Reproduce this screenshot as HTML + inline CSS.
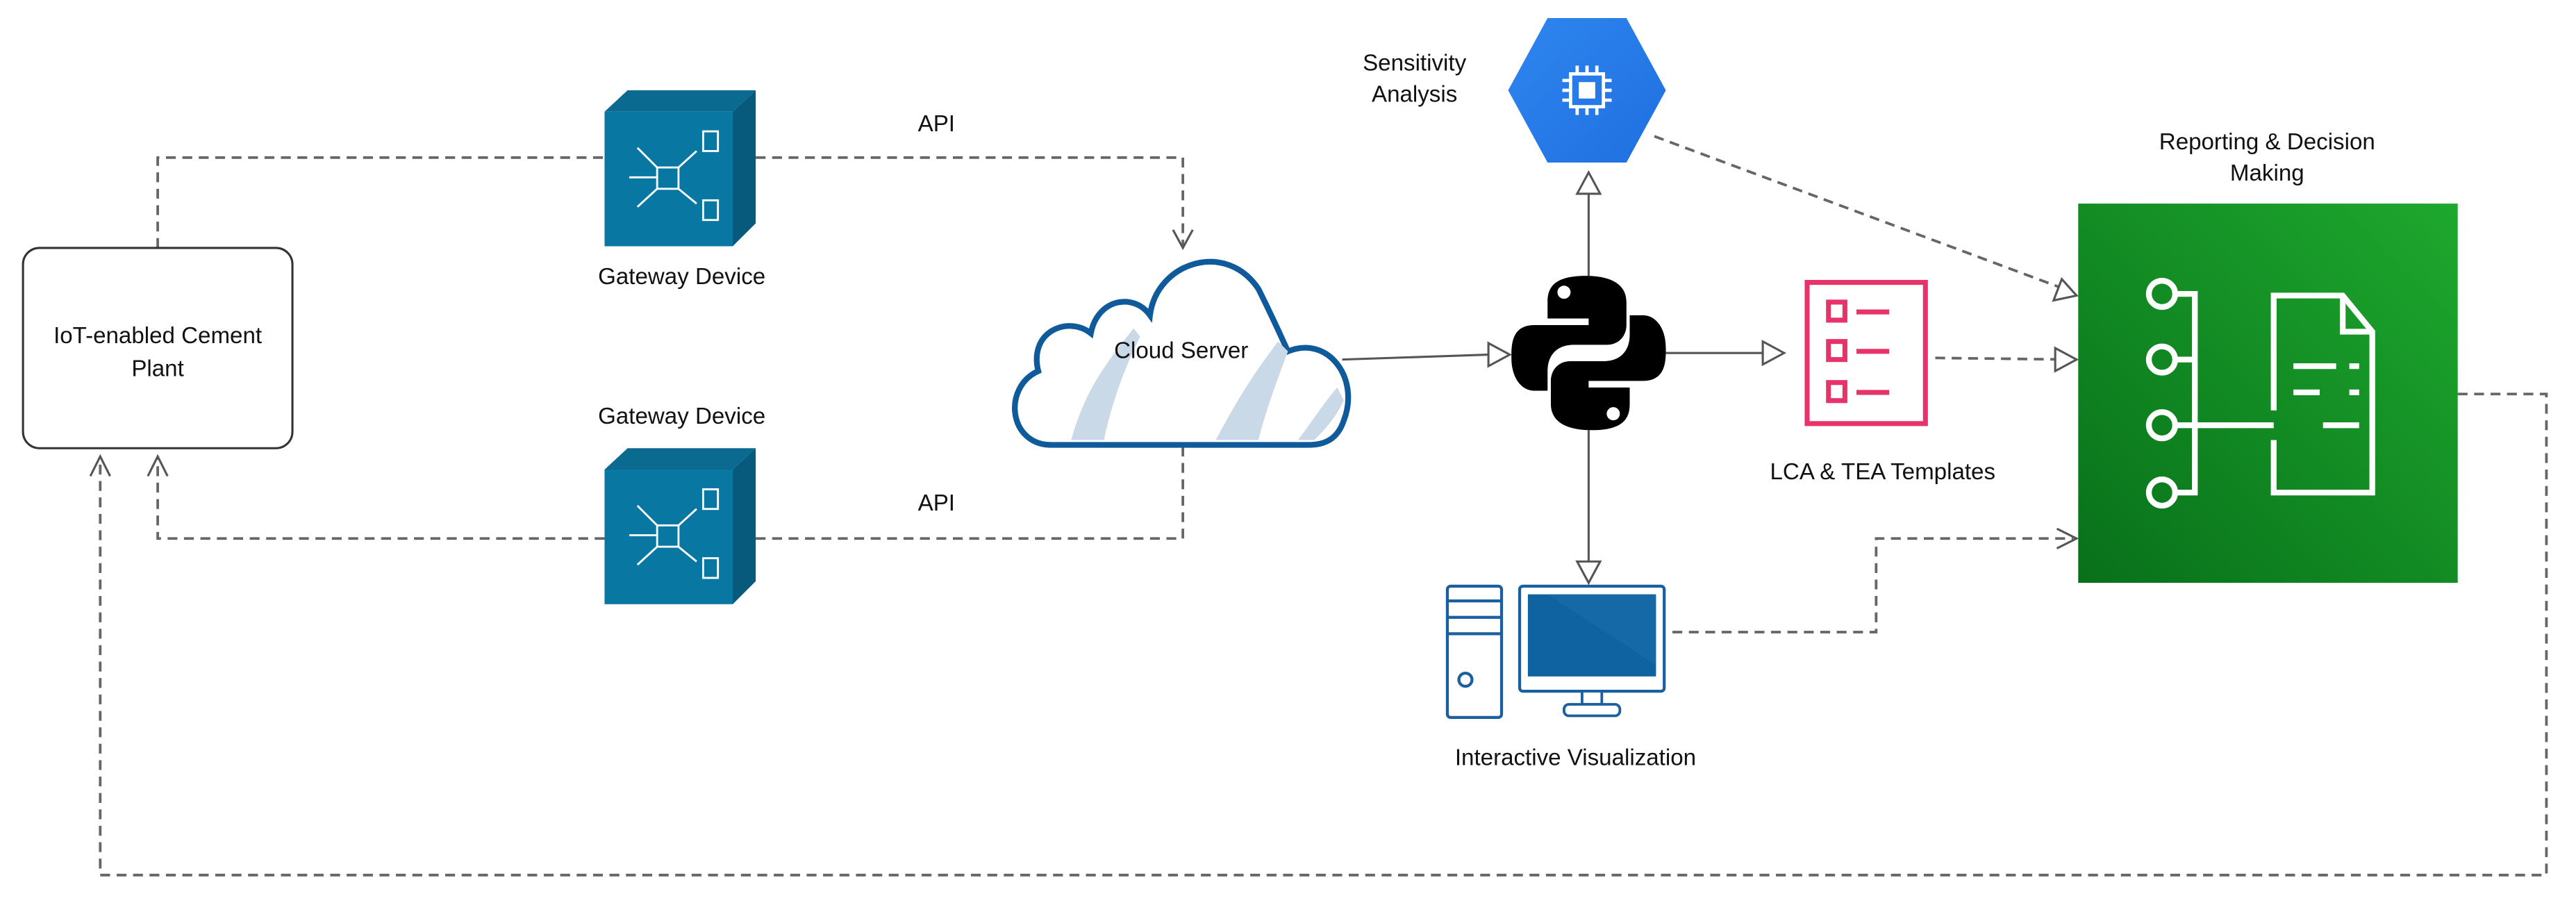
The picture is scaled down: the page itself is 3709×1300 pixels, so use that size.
<!DOCTYPE html>
<html><head><meta charset="utf-8"><style>
html,body{margin:0;padding:0;background:#fff;}
svg{display:block;}
text{font-family:"Liberation Sans",sans-serif;fill:#111;}
</style></head><body>
<svg width="3709" height="1300" viewBox="0 0 1568 550" preserveAspectRatio="none" xmlns="http://www.w3.org/2000/svg">
<defs>
<linearGradient id="g" x1="0" y1="1" x2="1" y2="0"><stop offset="0" stop-color="#08701a"/><stop offset="1" stop-color="#1ea82e"/></linearGradient>
<linearGradient id="hx" x1="0" y1="0" x2="1" y2="1"><stop offset="0" stop-color="#2f86f0"/><stop offset="1" stop-color="#1f6fe0"/></linearGradient>
</defs>
<g fill="none" stroke="#666" stroke-width="1.6" stroke-dasharray="6,4">
<polyline points="96,151 96,96 368,96"/>
<polyline points="460,96 720,96 720,150"/>
<polyline points="720,272 720,328 460,328"/>
<polyline points="368,328 96,328 96,279"/>
<polyline points="1007,83 1262,178"/>
<polyline points="1178,218 1262,219"/>
<polyline points="1018,385 1142,385 1142,328 1262,328"/>
<polyline points="1496,240 1550,240 1550,533 61,533 61,279"/>
</g>
<g fill="none" stroke="#555" stroke-width="1.3">
<polyline points="714,140 720,151 726,140"/>
<polyline points="90,290 96,278 102,290"/>
<polyline points="55,290 61,278 67,290"/>
<polyline points="1252,322 1264,328 1252,334"/>
</g>
<g fill="#fff" stroke="#555" stroke-width="1.3">
<polygon points="1264,180 1250,183 1255,170"/>
<polygon points="1264,219 1251,212 1251,226"/>
</g>
<g stroke="#555" stroke-width="1.3" fill="none">
<line x1="817" y1="219" x2="906" y2="216"/>
<line x1="1014" y1="215" x2="1073" y2="215"/>
<line x1="967" y1="168" x2="967" y2="117"/>
<line x1="967" y1="262" x2="967" y2="342"/>
</g>
<g fill="#fff" stroke="#555" stroke-width="1.3">
<polygon points="919,216 906,209 906,223"/>
<polygon points="1086,215 1073,208 1073,222"/>
<polygon points="967,105 960,118 974,118"/>
<polygon points="967,355 960,342 974,342"/>
</g>
<rect x="14" y="151" width="164" height="122" rx="10" fill="#fff" stroke="#333" stroke-width="1.3"/>
<text x="96" y="209" font-size="14" text-anchor="middle">IoT-enabled Cement</text>
<text x="96" y="229" font-size="14" text-anchor="middle">Plant</text>
<g id="gw">
<polygon points="368,68 382,55 460,55 446,68" fill="#0a6a90"/>
<polygon points="446,68 460,55 460,136 446,150" fill="#075a7c"/>
<rect x="368" y="68" width="78" height="82" fill="#0878a3"/>
<g stroke="#fff" stroke-width="1.2" fill="none">
<rect x="400" y="102" width="13" height="13"/>
<rect x="428" y="80" width="9" height="12"/>
<rect x="428" y="122" width="9" height="12"/>
<line x1="400" y1="102" x2="388" y2="90"/><line x1="400" y1="108" x2="383" y2="108"/><line x1="400" y1="115" x2="388" y2="126"/>
<line x1="413" y1="102" x2="424" y2="92"/><line x1="413" y1="115" x2="424" y2="124"/>
</g>
</g>
<use href="#gw" transform="translate(0,218)"/>
<text x="415" y="173" font-size="14" text-anchor="middle">Gateway Device</text>
<text x="415" y="258" font-size="14" text-anchor="middle">Gateway Device</text>
<text x="570" y="80" font-size="14" text-anchor="middle">API</text>
<text x="570" y="311" font-size="14" text-anchor="middle">API</text>
<path d="M640,271 C614,271 610,236 632,226 C626,202 650,192 664,203 C668,182 690,178 700,192 C704,160 746,146 766,176 C776,196 782,210 784,214 C808,204 828,230 818,256 C814,268 806,271 796,271 Z" fill="#fff" stroke="#0e5a9a" stroke-width="3.5"/>
<path d="M652,268 C660,240 670,225 690,200 L694,205 C684,225 676,248 672,268 Z" fill="#c9d9e8"/>
<path d="M740,268 C755,240 765,225 778,208 L784,214 C776,235 770,252 766,268 Z" fill="#c9d9e8"/>
<path d="M790,268 C800,255 806,245 814,236 L818,244 C812,256 806,262 800,268 Z" fill="#c9d9e8"/>
<text x="719" y="218" font-size="14" text-anchor="middle">Cloud Server</text>
<polygon points="942,11 990,11 1014,55 990,99 942,99 918,55" fill="url(#hx)"/>
<g stroke="#fff" stroke-width="2" fill="none"><rect x="956" y="45" width="20" height="20"/><rect x="962" y="51" width="8" height="8" fill="#fff"/>
<path d="M960,45v-5M966,45v-5M972,45v-5M960,65v5M966,65v5M972,65v5M956,49h-5M956,55h-5M956,61h-5M976,49h5M976,55h5M976,61h5"/></g>
<text x="861" y="43" font-size="14" text-anchor="middle">Sensitivity</text>
<text x="861" y="62" font-size="14" text-anchor="middle">Analysis</text>
<path d="M965,168 C945,168 942,176 942,184 L942,194 L967,194 L967,198 L934,198 C920,198 920,210 920,218 C920,230 926,238 934,238 L942,238 L942,226 C942,216 948,210 958,210 L978,210 C986,210 990,204 990,198 L990,184 C990,174 982,168 965,168 Z" fill="#000"/>
<path d="M969,262 C989,262 992,254 992,246 L992,236 L967,236 L967,232 L1000,232 C1014,232 1014,220 1014,212 C1014,200 1008,192 1000,192 L992,192 L992,204 C992,214 986,220 976,220 L956,220 C948,220 944,226 944,232 L944,246 C944,256 952,262 969,262 Z" fill="#000"/>
<circle cx="952" cy="178" r="4" fill="#fff"/><circle cx="982" cy="252" r="4" fill="#fff"/>
<rect x="1100" y="172" width="72" height="86" fill="#fff" stroke="#e8336a" stroke-width="3"/>
<g stroke="#e8336a" stroke-width="3" fill="none"><rect x="1113" y="184" width="10" height="11"/><rect x="1113" y="208" width="10" height="11"/><rect x="1113" y="233" width="10" height="11"/>
<path d="M1130,190h20M1130,214h20M1130,239h20"/></g>
<text x="1146" y="292" font-size="14" text-anchor="middle">LCA &amp; TEA Templates</text>
<text x="1380" y="91" font-size="14" text-anchor="middle">Reporting &amp; Decision</text>
<text x="1380" y="110" font-size="14" text-anchor="middle">Making</text>
<rect x="1265" y="124" width="231" height="231" fill="url(#g)"/>
<g stroke="#fff" stroke-width="3.5" fill="none">
<circle cx="1316" cy="179" r="8"/><circle cx="1316" cy="219" r="8"/><circle cx="1316" cy="259" r="8"/><circle cx="1316" cy="300" r="8"/>
<path d="M1324,179h12v121h-12M1324,219h12M1324,259h60M1324,300h12"/>
<path d="M1384,250v-70h42l18,22v98h-60v-32"/>
<path d="M1426,180v22h18"/>
<path d="M1396,223h26M1396,239h16M1430,223h6M1430,239h6M1414,259h22"/>
</g>
<g stroke="#1a5fa0" stroke-width="1.8" fill="#fff">
<rect x="881" y="357" width="33" height="80" rx="2"/>
<path d="M881,366h33M881,376h33M881,386h33" fill="none"/>
<circle cx="892" cy="414" r="4"/>
<rect x="925" y="357" width="88" height="64" rx="2"/>
</g>
<rect x="930" y="362" width="78" height="50" fill="#0f63a0"/>
<path d="M942,362 L1008,362 L1008,405 Z" fill="#1c6fae" opacity="0.5"/>
<rect x="963" y="421" width="12" height="8" fill="#fff" stroke="#1a5fa0" stroke-width="1.6"/>
<rect x="952" y="429" width="34" height="7" rx="3" fill="#fff" stroke="#1a5fa0" stroke-width="1.6"/>
<text x="959" y="466" font-size="14" text-anchor="middle">Interactive Visualization</text>
</svg>
</body></html>
